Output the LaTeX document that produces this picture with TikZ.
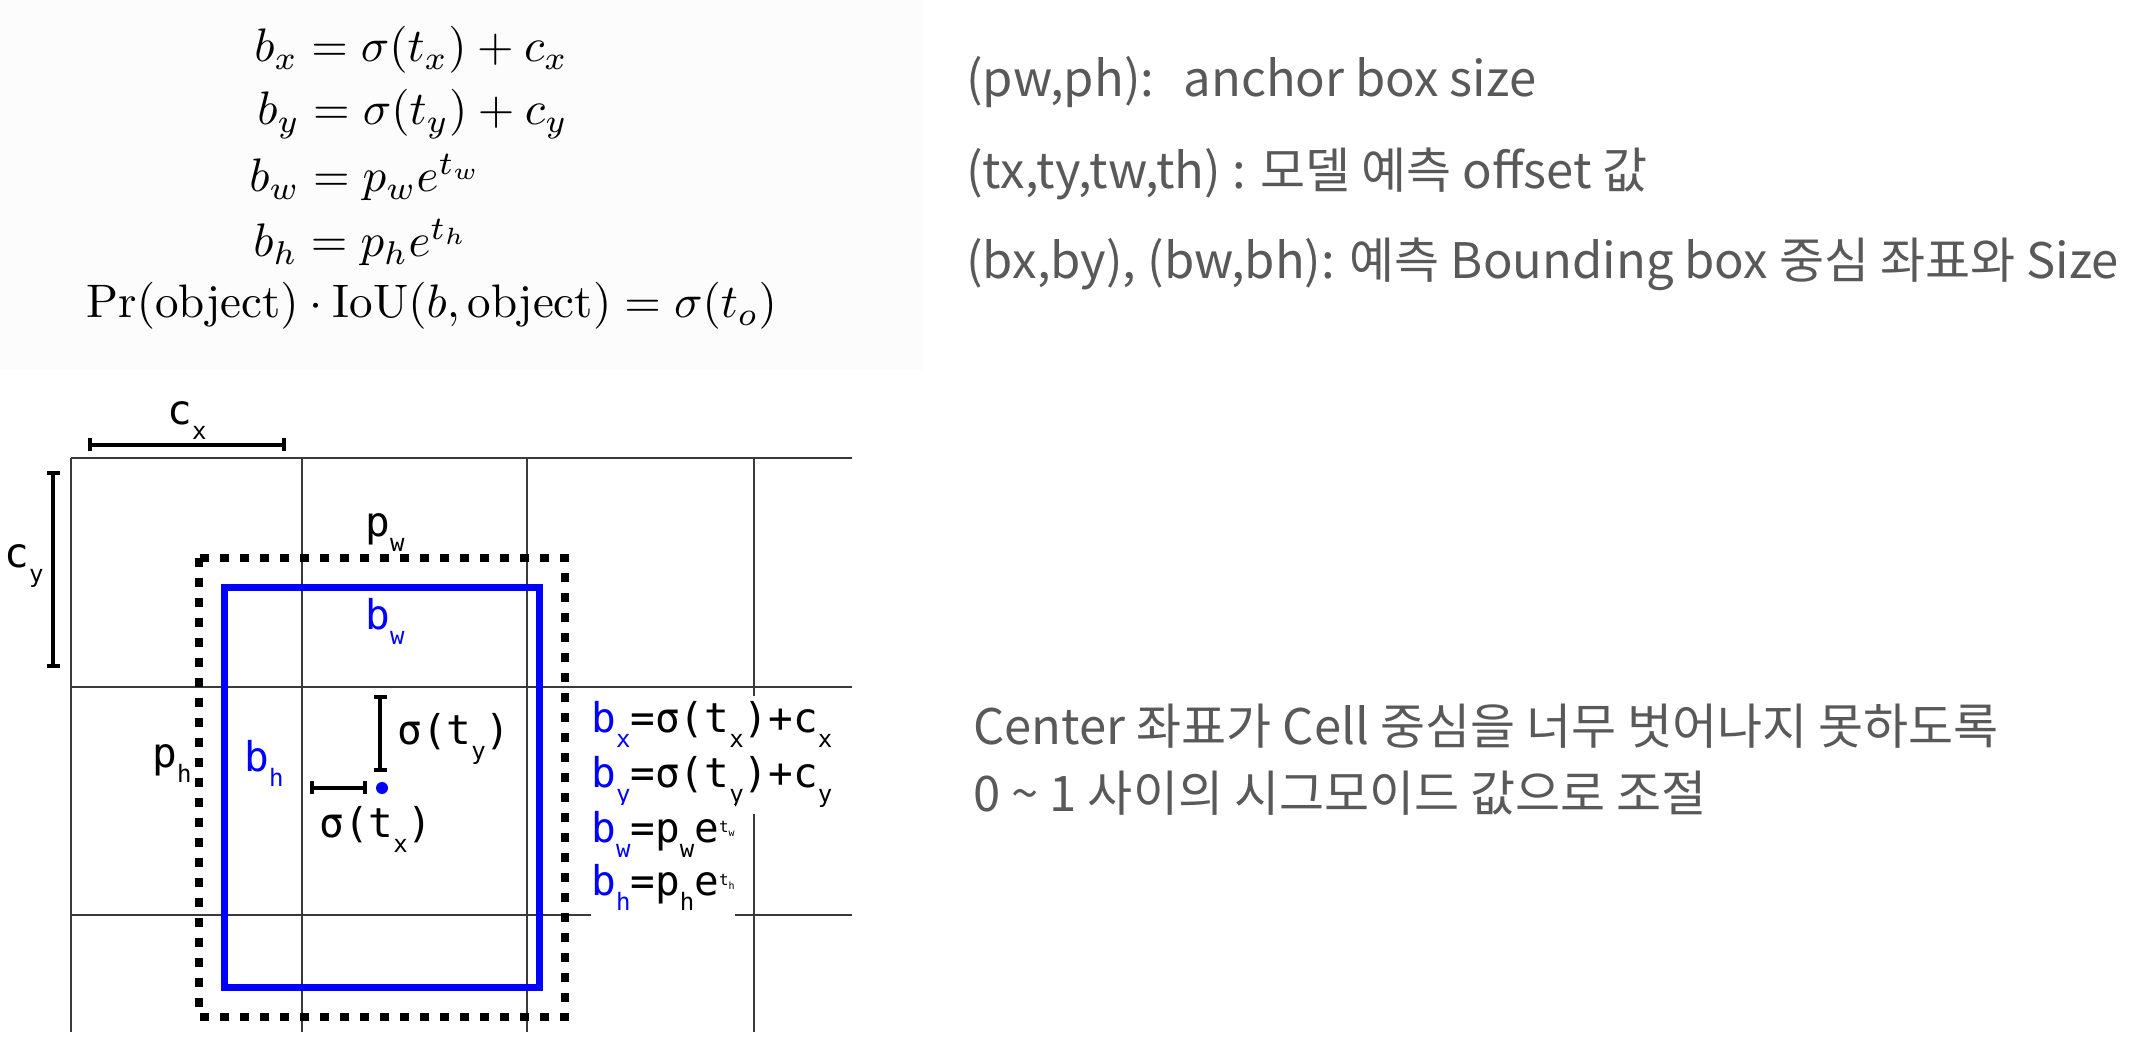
\documentclass[tikz,border=0pt]{standalone}
\usepackage{amsmath}
\usepackage{graphicx}
\usepackage{fontspec}
\newfontfamily\cjkfont{Noto Sans CJK KR}
\newfontfamily\monofont{DejaVu Sans Mono}
\usetikzlibrary{arrows.meta}

\definecolor{notegray}{HTML}{595959}
\definecolor{gridgray}{HTML}{3A3A3A}
\definecolor{predblue}{RGB}{0,0,255}

% small lowered / raised indices for the diagram labels
\newcommand{\lsub}[1]{\raisebox{-7.5pt}{\fontsize{12}{12}\selectfont #1}}
\newcommand{\lsup}[2]{\raisebox{5pt}{\fontsize{8}{8}\selectfont #1\raisebox{-2pt}{\fontsize{5}{5}\selectfont #2}}}
% equations are set at 10pt and scaled up
\newcommand{\bigeq}[1]{\scalebox{2.35}{$#1$}}

\begin{document}
\begin{tikzpicture}[
  x=0.5pt, y=-0.5pt,
  eqn/.style={anchor=base west, inner sep=0},
  note/.style={anchor=base west, inner sep=0, text=notegray, font=\cjkfont\fontsize{24.5}{29}\selectfont},
  lbl/.style={anchor=base west, inner sep=0, font=\monofont\fontsize{20.5}{24}\selectfont},
  predlbl/.style={lbl, text=predblue},
  eqlbl/.style={lbl, fill=white, inner ysep=3pt},
  gridline/.style={draw=gridgray, line width=1pt},
  span/.style={{Bar[width=6.5pt]}-{Bar[width=6.5pt]}, line width=1.8pt},
  anchorbox/.style={draw=black, line width=4pt, dash pattern=on 4.5pt off 5.5pt},
  predbox/.style={draw=predblue, line width=3.5pt}
]
  \useasboundingbox (0,0) rectangle (2154,1058);
  \fill[black!1] (0,0) rectangle (923,370);

  % equations
  \node[eqn] (eqbx) at (254,62) {\bigeq{b_x = \sigma(t_x) + c_x}};
  \node[eqn] (eqby) at (257,125) {\bigeq{b_y = \sigma(t_y) + c_y}};
  \node[eqn] (eqbw) at (249,192) {\bigeq{b_w = p_w e^{t_w}}};
  \node[eqn] (eqbh) at (253,257) {\bigeq{b_h = p_h e^{t_h}}};
  \node[eqn] (eqpr) at (86,318) {\bigeq{\Pr(\text{object}) \cdot \mathrm{IoU}(b, \text{object}) = \sigma(t_o)}};

  % grid cells
  \foreach \gy in {458,687,915}
    \draw[gridline] (71,\gy) -- (852,\gy);
  \foreach \gx in {71,302,527,754}
    \draw[gridline] (\gx,458) -- (\gx,1032);

  % anchor box and predicted box
  \draw[anchorbox] (199,558) rectangle (565,1017);
  \draw[predbox] (224,588) rectangle (539,987);
  \coordinate (ctr) at (382,788);
  \fill[predblue] (ctr) circle[radius=3pt];

  % offsets
  \draw[span] (88,445) -- (286,445);
  \draw[span] (53,471) -- (53,668);
  \draw[span] (310,788) -- (367,788);
  \draw[span] (380,695) -- (380,772);

  \node[lbl] (cx) at (167,425) {c\lsub{x}};
  \node[lbl] (cy) at (4,568) {c\lsub{y}};
  \node[lbl] (pw) at (365,537) {p\lsub{w}};
  \node[predlbl] (bw) at (365,630) {b\lsub{w}};
  \node[lbl] (ph) at (152,768) {p\lsub{h}};
  \node[predlbl] (bh) at (244,772) {b\lsub{h}};
  \node[lbl] (stx) at (319,838) {σ(t\lsub{x})};
  \node[lbl] (sty) at (397,745) {σ(t\lsub{y})};

  \node[eqlbl] (rbx) at (591,733) {\textcolor{predblue}{b\lsub{x}}=σ(t\lsub{x})+c\lsub{x}};
  \node[eqlbl] (rby) at (591,788) {\textcolor{predblue}{b\lsub{y}}=σ(t\lsub{y})+c\lsub{y}};
  \node[eqlbl] (rbw) at (591,842) {\textcolor{predblue}{b\lsub{w}}=p\lsub{w}e\lsup{t}{w}};
  \node[eqlbl] (rbh) at (591,895) {\textcolor{predblue}{b\lsub{h}}=p\lsub{h}e\lsup{t}{h}};

  % notes
  \node[note] (n1) at (966,97) {(pw,ph):\hspace{0.6em}anchor box size};
  \node[note] (n2) at (966,189) {(tx,ty,tw,th) : 모델 예측 offset 값};
  \node[note] (n3) at (966,279) {(bx,by), (bw,bh): 예측 Bounding box 중심 좌표와 Size};
  \node[note] (n4) at (973,745) {Center 좌표가 Cell 중심을 너무 벗어나지 못하도록};
  \node[note] (n5) at (973,812) {0 \textasciitilde{} 1 사이의 시그모이드 값으로 조절};
\end{tikzpicture}
\end{document}
